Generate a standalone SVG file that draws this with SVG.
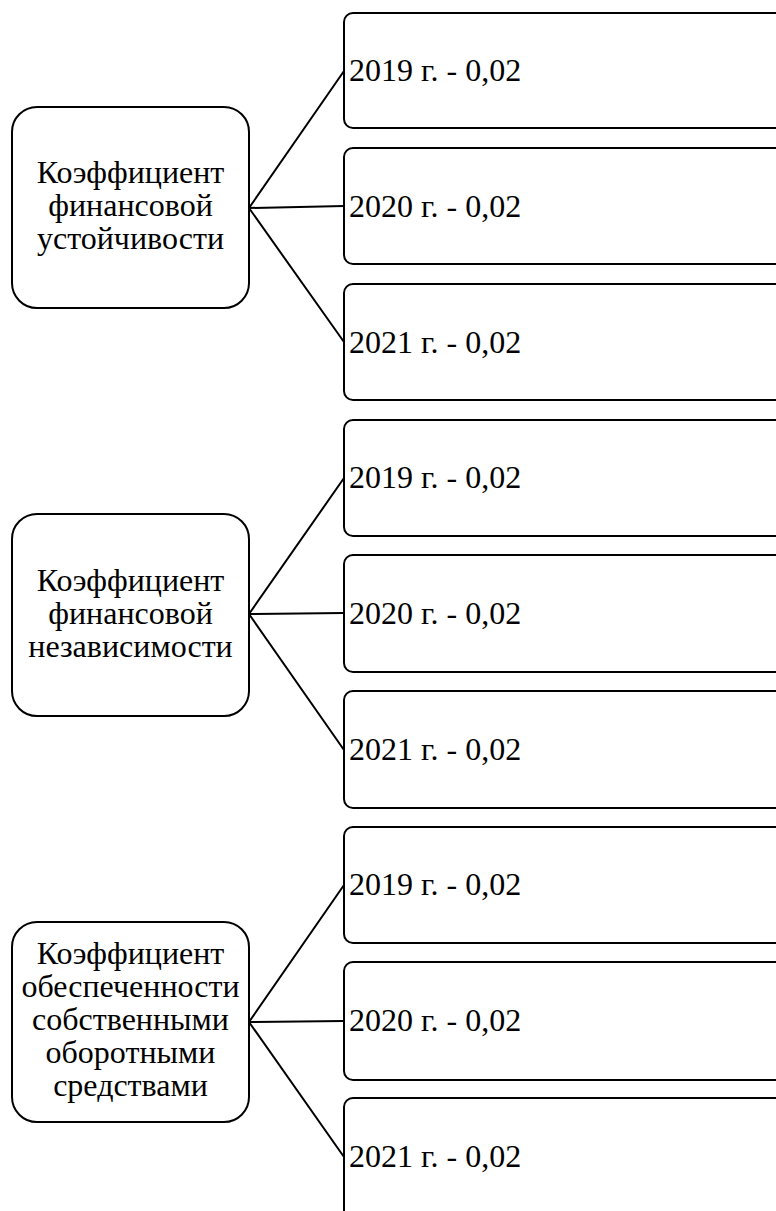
<svg xmlns="http://www.w3.org/2000/svg" width="776" height="1211" viewBox="0 0 776 1211">
<style>
.box{fill:#fff;stroke:#000;stroke-width:2}
.t{font-family:"Liberation Serif","Times New Roman",serif;font-size:32px;fill:#000}
.c{text-anchor:middle}
.ln{stroke:#000;stroke-width:2;fill:none}
</style>
<rect width="776" height="1211" fill="#fff"/>
<g id="connectors">
<path class="ln" d="M249,208 L344,71 M249,208 L344,206 M249,208 L344,342"/>
<path class="ln" d="M249,614 L344,478 M249,614 L344,613 M249,614 L344,750"/>
<path class="ln" d="M249,1022 L344,885 M249,1022 L344,1021 M249,1022 L344,1157"/>
</g>
<g id="n1">
<rect class="box" x="12" y="107" width="237" height="201" rx="25"/>
<text class="t c" x="130.5" y="183">Коэффициент</text>
<text class="t c" x="130.5" y="216">финансовой</text>
<text class="t c" x="130.5" y="249">устойчивости</text>
</g>
<g id="n1a"><rect class="box" x="344" y="13" width="470" height="115" rx="9"/><text class="t" x="349" y="81">2019 г. - 0,02</text></g>
<g id="n1b"><rect class="box" x="344" y="148" width="470" height="116" rx="9"/><text class="t" x="349" y="217">2020 г. - 0,02</text></g>
<g id="n1c"><rect class="box" x="344" y="284" width="470" height="116" rx="9"/><text class="t" x="349" y="353">2021 г. - 0,02</text></g>
<g id="n2">
<rect class="box" x="12" y="514" width="237" height="202" rx="25"/>
<text class="t c" x="130.5" y="591">Коэффициент</text>
<text class="t c" x="130.5" y="624">финансовой</text>
<text class="t c" x="130.5" y="657">независимости</text>
</g>
<g id="n2a"><rect class="box" x="344" y="420" width="470" height="116" rx="9"/><text class="t" x="349" y="488">2019 г. - 0,02</text></g>
<g id="n2b"><rect class="box" x="344" y="555" width="470" height="117" rx="9"/><text class="t" x="349" y="624">2020 г. - 0,02</text></g>
<g id="n2c"><rect class="box" x="344" y="691" width="470" height="117" rx="9"/><text class="t" x="349" y="760">2021 г. - 0,02</text></g>
<g id="n3">
<rect class="box" x="12" y="922" width="237" height="200" rx="25"/>
<text class="t c" x="130.5" y="964">Коэффициент</text>
<text class="t c" x="130.5" y="997">обеспеченности</text>
<text class="t c" x="130.5" y="1030">собственными</text>
<text class="t c" x="130.5" y="1063">оборотными</text>
<text class="t c" x="130.5" y="1096">средствами</text>
</g>
<g id="n3a"><rect class="box" x="344" y="827" width="470" height="116" rx="9"/><text class="t" x="349" y="895">2019 г. - 0,02</text></g>
<g id="n3b"><rect class="box" x="344" y="962" width="470" height="118" rx="9"/><text class="t" x="349" y="1031">2020 г. - 0,02</text></g>
<g id="n3c"><rect class="box" x="344" y="1098" width="470" height="130" rx="9"/><text class="t" x="349" y="1167">2021 г. - 0,02</text></g>
</svg>
